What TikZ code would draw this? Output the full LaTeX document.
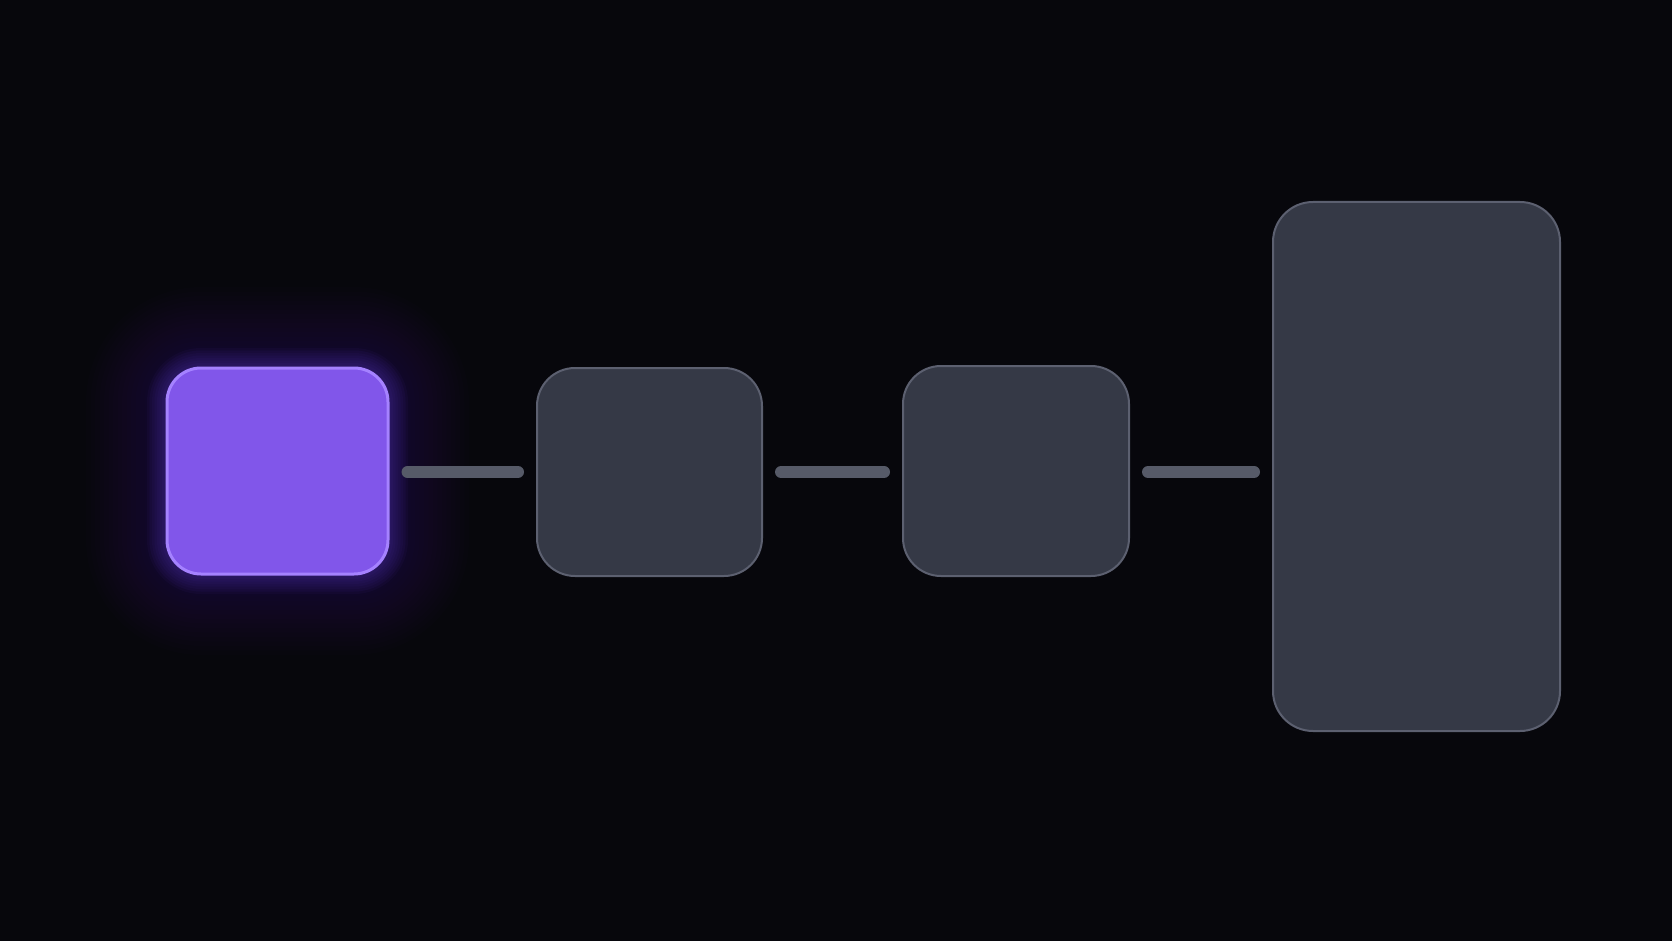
\documentclass[tikz,border=0pt]{standalone}
\usepackage{tikz}
\usetikzlibrary{positioning}
\definecolor{bgdark}{RGB}{7,7,12}
\definecolor{srcfill}{RGB}{129,86,234}
\definecolor{srcedge}{RGB}{165,130,255}
\definecolor{glowpurple}{RGB}{100,60,210}
\definecolor{stagefill}{RGB}{53,57,70}
\definecolor{stageedge}{RGB}{92,96,112}
\definecolor{linkgray}{RGB}{86,90,104}

\begin{document}
\begin{tikzpicture}[x=1pt,y=-1pt,
    stage/.style={rectangle, rounded corners=38pt, fill=stagefill, draw=stageedge, line width=2pt, inner sep=0pt},
    source/.style={rectangle, rounded corners=34pt, fill=srcfill, draw=srcedge, line width=3pt, inner sep=0pt},
    link/.style={linkgray, line width=12pt, line cap=round, shorten <=18pt, shorten >=18pt}]
     \fill[bgdark] (0,0) rectangle (1672,941);
     \useasboundingbox (0,0) rectangle (1672,941);

     \foreach \g in {1,...,18}
        \fill[glowpurple, fill opacity=0.012, rounded corners={34+4.5*\g}]
           ({167-4.5*\g},{368-4.5*\g}) rectangle ({388+4.5*\g},{574+4.5*\g});
     \foreach \g in {1,...,8}
        \fill[glowpurple, fill opacity=0.05, rounded corners={34+2.5*\g}]
           ({167-2.5*\g},{368-2.5*\g}) rectangle ({388+2.5*\g},{574+2.5*\g});

     \node [source, minimum width=221pt, minimum height=206pt] (src) at (277.5,471){};
     \node [stage, minimum width=225pt, minimum height=208pt] (stageA) at (649.5,472){};
     \node [stage, minimum width=226pt, minimum height=210pt] (stageB) at (1016,471){};
     \node [stage, minimum width=287pt, minimum height=529pt, rounded corners=40pt] (sink) at (1416.5,466.5){};

     \draw [link] (src.east |- 0,472) -- (stageA.west |- 0,472);
     \draw [link] (stageA.east |- 0,472) -- (stageB.west |- 0,472);
     \draw [link] (stageB.east |- 0,472) -- (sink.west |- 0,472);
\end{tikzpicture}
\end{document}
